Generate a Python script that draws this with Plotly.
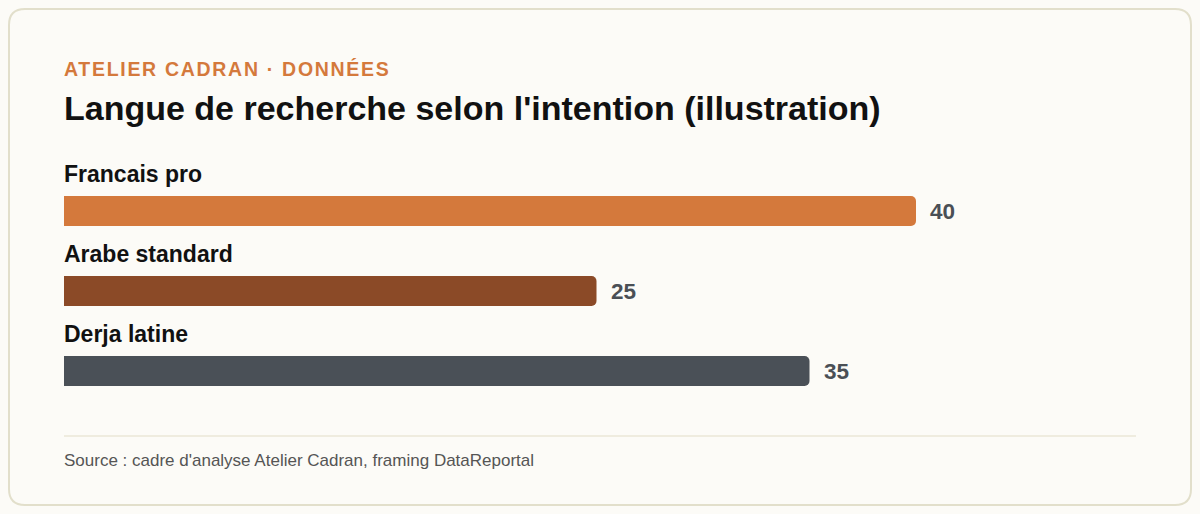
import plotly.graph_objects as go

# --- data ---
categories = ["Francais pro", "Arabe standard", "Derja latine"]
values = [40, 25, 35]
colors = ["#d4793c", "#8b4a27", "#4a5057"]

kicker = "ATELIER CADRAN · DONNÉES"
title = "Langue de recherche selon l'intention (illustration)"
source = "Source : cadre d'analyse Atelier Cadran, framing DataReportal"

# page body keeps its 8px margin, so the figure is the card itself
W, H = 1184, 498
L, R, T, B = 56, 56, 163, 95
PW, PH = W - L - R, H - T - B
FONT = "Liberation Sans, Arial, sans-serif"
BG = "#fcfbf7"


# screen pixels of the 1200x514 page -> paper coords of the plot area
def px(x):
    return (x - 8 - L) / PW


def py(y):
    return (H - B - (y - 8)) / PH


fig = go.Figure()

fig.add_trace(go.Bar(
    x=values,
    y=categories,
    orientation="h",
    width=0.375,
    marker=dict(color=colors, cornerradius=5, line=dict(width=0)),
    hoverinfo="skip",
    showlegend=False,
))

# category labels above each bar, value labels right of each bar
for cat, val in zip(categories, values):
    fig.add_annotation(
        x=0, y=cat, xref="x", yref="y",
        text=f"<b>{cat}</b>", showarrow=False,
        xanchor="left", yanchor="middle", yshift=37, xshift=-2,
        font=dict(family=FONT, size=23, color="#111111"),
    )
    fig.add_annotation(
        x=val, y=cat, xref="x", yref="y",
        text=f"<b>{val}</b>", showarrow=False,
        xanchor="left", yanchor="middle", xshift=12,
        font=dict(family=FONT, size=22.5, color="#4a4f55"),
    )

# card outline with rounded corners
r = 16
x0, y0, x1, y1 = 9, 9, 1191, 505
path = (
    f"M {px(x0 + r)} {py(y0)} L {px(x1 - r)} {py(y0)} "
    f"Q {px(x1)} {py(y0)} {px(x1)} {py(y0 + r)} "
    f"L {px(x1)} {py(y1 - r)} Q {px(x1)} {py(y1)} {px(x1 - r)} {py(y1)} "
    f"L {px(x0 + r)} {py(y1)} Q {px(x0)} {py(y1)} {px(x0)} {py(y1 - r)} "
    f"L {px(x0)} {py(y0 + r)} Q {px(x0)} {py(y0)} {px(x0 + r)} {py(y0)} Z"
)
fig.add_shape(type="path", path=path, xref="paper", yref="paper",
              fillcolor=BG, line=dict(color="#e2dfcb", width=2),
              layer="below")

# footer rule
fig.add_shape(type="line", xref="paper", yref="paper",
              x0=px(64), x1=px(1136), y0=py(436), y1=py(436),
              line=dict(color="#ebe7d7", width=1.5))

fig.add_annotation(
    x=px(62), y=py(69), xref="paper", yref="paper",
    text=f"<b>{kicker}</b>", showarrow=False, align="left",
    xanchor="left", yanchor="middle",
    font=dict(family=FONT, size=19.5, color="#d4793c"),
)
fig.add_annotation(
    x=px(62), y=py(108), xref="paper", yref="paper",
    text=f"<b>{title}</b>", showarrow=False,
    xanchor="left", yanchor="middle",
    font=dict(family=FONT, size=34, color="#111111"),
)
fig.add_annotation(
    x=px(62), y=py(460), xref="paper", yref="paper",
    text=source, showarrow=False,
    xanchor="left", yanchor="middle",
    font=dict(family=FONT, size=17, color="#555555"),
)

fig.update_layout(
    width=W, height=H,
    margin=dict(l=L, r=R, t=T, b=B),
    paper_bgcolor=BG,
    plot_bgcolor="rgba(0,0,0,0)",
    xaxis=dict(range=[0, PW / 21.3], visible=False, fixedrange=True),
    yaxis=dict(range=[2.5, -0.5], visible=False, fixedrange=True,
               categoryorder="array", categoryarray=categories),
    font=dict(family=FONT),
)

# letter-spaced kicker line
js = (
    f"document.body.style.background='{BG}';"
    "document.querySelectorAll('.annotation-text').forEach(function(t){"
    "if(t.textContent.indexOf('ATELIER')===0){t.style.letterSpacing='1.7px';}});"
)
fig.write_html("out.html", config={"displayModeBar": False}, post_script=js)
